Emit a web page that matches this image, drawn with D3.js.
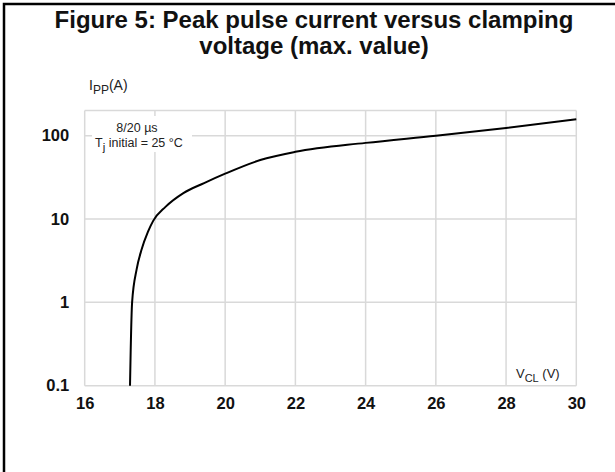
<!DOCTYPE html>
<html><head><meta charset="utf-8">
<script src="https://cdn.jsdelivr.net/npm/d3@7"></script>
<style>body{margin:0;background:#fff;} svg{display:block;font-family:"Liberation Sans",Arial,sans-serif;}</style>
</head><body>
<svg id="c" width="615" height="472"></svg>
<script>
const vcl = [17.29, 17.31, 17.35, 17.48, 17.62, 17.8, 17.95, 18.3, 18.81, 19.4, 20, 21, 22, 24, 26, 28, 30];
const ipp = [0.1, 0.27, 1, 2.5, 4.3, 7, 9.5, 14, 20.5, 27, 35, 51, 64, 82, 100, 124, 157];
const xTicks = [16, 18, 20, 22, 24, 26, 28, 30];
const yTicks = [0.1, 1, 10, 100];
const yTickLabels = ["0.1", "1", "10", "100"];

const svg = d3.select("#c");
const x = d3.scaleLinear().domain([16, 30]).range([84.7, 576.3]);
const y = d3.scaleLog().domain([0.1, 200]).range([385.7, 110.6]);

// outer frame (left + top)
svg.append("path").attr("d","M4,472 L4,4 L615,4").attr("fill","none").attr("stroke","#000").attr("stroke-width",2.5);

// title
const title = svg.append("text").attr("text-anchor","middle").attr("font-weight","bold").attr("font-size",24).attr("fill","#111");
title.append("tspan").attr("x",314).attr("y",28).text("Figure 5: Peak pulse current versus clamping");
title.append("tspan").attr("x",314).attr("y",54).text("voltage (max. value)");

const grid = svg.append("g").attr("stroke","#d9d9d9").attr("stroke-width",1.5);
xTicks.forEach(t => grid.append("line").attr("x1",x(t)).attr("x2",x(t)).attr("y1",y(200)).attr("y2",y(0.1)));
yTicks.concat([200]).forEach(t => grid.append("line").attr("x1",x(16)).attr("x2",x(30)).attr("y1",y(t)).attr("y2",y(t)));

// axes labels
const xa = svg.append("g").attr("transform",`translate(0,${y(0.1)})`)
  .call(d3.axisBottom(x).tickValues(xTicks).tickSize(0).tickPadding(12).tickFormat(d3.format("d")));
xa.select(".domain").remove();
xa.selectAll("text").attr("font-size",16.5).attr("font-weight","bold").attr("fill","#111").attr("font-family","Liberation Sans, Arial, sans-serif");

const ya = svg.append("g").attr("transform",`translate(${x(16)},0)`)
  .call(d3.axisLeft(y).tickValues(yTicks).tickSize(0).tickPadding(15.5).tickFormat((d,i)=>yTickLabels[i]));
ya.select(".domain").remove();
ya.selectAll("text").attr("font-size",16.5).attr("font-weight","bold").attr("fill","#111").attr("font-family","Liberation Sans, Arial, sans-serif");

// annotation with white background
svg.append("rect").attr("x",92).attr("y",116).attr("width",100).attr("height",36).attr("fill","#fff");
svg.append("text").attr("x",137).attr("y",132).attr("text-anchor","middle").attr("font-size",12.5).attr("fill","#222").text("8/20 µs");
const tj = svg.append("text").attr("x",95).attr("y",147).attr("font-size",12.5).attr("fill","#222");
tj.append("tspan").text("T");
tj.append("tspan").attr("dy",4).attr("font-size",11.5).text("j");
tj.append("tspan").attr("dy",-4).text(" initial = 25 °C");

// Ipp label
const il = svg.append("text").attr("x",89).attr("y",90).attr("font-size",14).attr("fill","#222");
il.append("tspan").text("I");
il.append("tspan").attr("dy",4).attr("font-size",12).text("PP");
il.append("tspan").attr("dy",-4).text("(A)");

// Vcl label
const vl = svg.append("text").attr("x",516).attr("y",378).attr("font-size",13).attr("fill","#222");
vl.append("tspan").text("V");
vl.append("tspan").attr("dy",4).attr("font-size",11).text("CL");
vl.append("tspan").attr("dy",-4).text(" (V)");

// curve
const pts = vcl.map((v,i)=>[v, ipp[i]]);
svg.append("path").datum(pts)
  .attr("fill","none").attr("stroke","#000").attr("stroke-width",2)
  .attr("d", d3.line().x(d=>x(d[0])).y(d=>y(d[1])).curve(d3.curveMonotoneX));
</script>
</body></html>
